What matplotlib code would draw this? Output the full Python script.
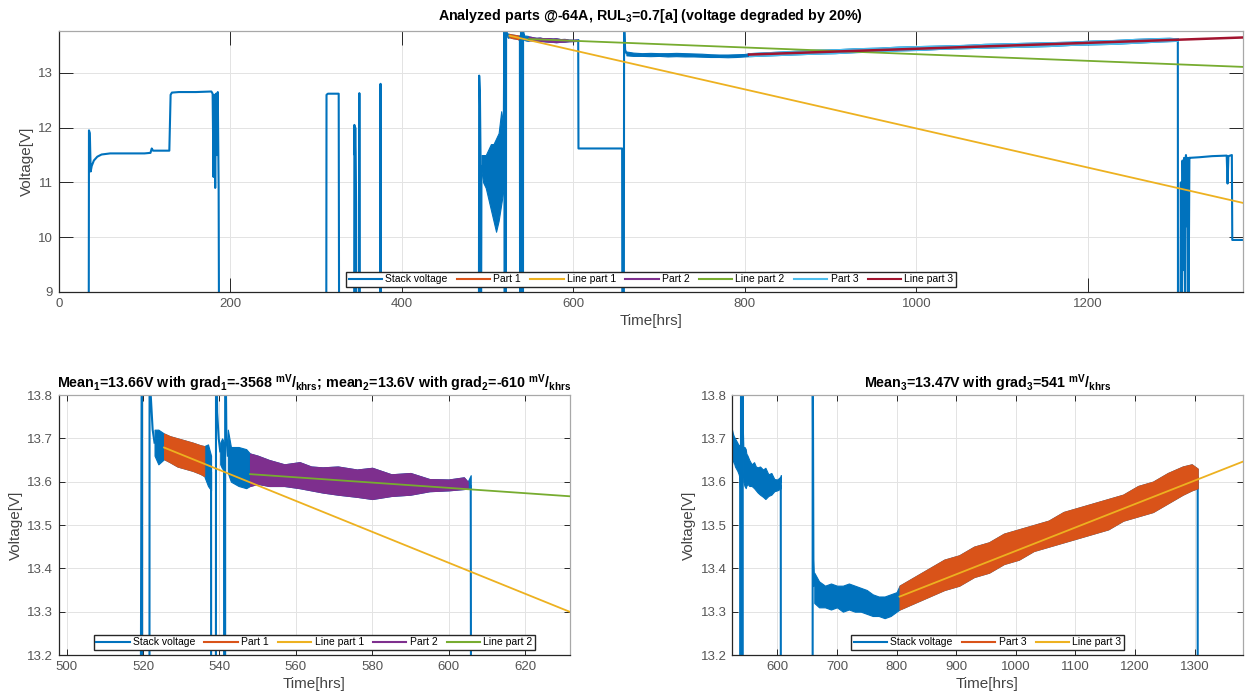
import numpy as np
import matplotlib.pyplot as plt
from matplotlib.lines import Line2D

plt.rcParams['font.family'] = ['Liberation Sans', 'DejaVu Sans']
plt.rcParams['mathtext.fontset'] = 'custom'
plt.rcParams['mathtext.rm'] = 'Liberation Sans:bold'
plt.rcParams['mathtext.default'] = 'rm'

BLUE, ORANGE, YELLOW, PURPLE = '#0072BD', '#D95319', '#EDB120', '#7E2F8E'
GREEN, CYAN, RED = '#77AC30', '#4DBEEE', '#A2142F'

# stack voltage: switching steps and spikes (8 = below scale, 14 = above scale)
step_t = [35.0, 35.3, 36.3, 37.3, 38.5, 41, 45, 50, 60, 80, 100, 107, 108.5, 110, 112, 129,
          130.5, 132, 140, 160, 178, 179.5, 180.5, 181.5, 182.5, 183.5, 184.5, 185.5, 186.5, 187,
          np.nan,
          312.0, 312.3, 314, 326.5, 327,
          np.nan,
          344.5, 344.8, 345.3, 345.8, 346.3, 346.8, 347.1, np.nan, 350.3, 350.6, 351.0,
          np.nan,
          375.0, 375.3, 375.6,
          np.nan,
          490.0, 490.3, 491.2, 492.0, 492.5, 493.0,
          np.nan,
          519.0, 519.7, 519.9, 521.5, 521.7, 522.0, 522.5, 523.0,
          np.nan,
          537.8, 538.0, 538.9, 539.1, 539.4, 539.8, 540.2,
          np.nan,
          541.2, 541.4, 541.5, 541.8, 542.2,
          np.nan,
          605.8, 606.1, 657.0, 657.3, 659.0, 659.3, 660.5, 662.0,
          np.nan,
          1305.0, 1305.2, 1308, 1308.5, 1309.5, 1310.5, 1311.5, 1312.5, 1313.5, 1314.5, 1315.5,
          1316.5, 1317.5, 1318.5, 1320, 1330, 1345, 1362, 1363, 1364, 1368, 1368.5, 1381]
step_v = [8.0, 11.95, 11.9, 11.2, 11.3, 11.4, 11.47, 11.51, 11.53, 11.53, 11.53, 11.54, 11.62, 11.58,
          11.58, 11.58, 12.6, 12.64, 12.65, 12.65, 12.66, 12.62, 11.1, 12.6, 10.9, 12.62, 11.5, 12.65,
          10.9, 8.0,
          np.nan,
          8.0, 12.6, 12.62, 12.62, 8.0,
          np.nan,
          8.0, 12.05, 11.5, 12.0, 11.55, 10.6, 8.0, np.nan, 8.0, 12.63, 8.0,
          np.nan,
          8.0, 12.8, 8.0,
          np.nan,
          8.0, 12.95, 12.6, 11.3, 8.0, 11.3,
          np.nan,
          11.9, 14.0, 8.0, 8.0, 14.0, 13.8, 13.72, 13.69,
          np.nan,
          13.62, 8.0, 8.0, 14.0, 13.76, 13.7, 13.67,
          np.nan,
          13.65, 8.0, 14.0, 13.72, 13.66,
          np.nan,
          13.59, 11.62, 11.62, 8.0, 8.0, 14.0, 13.42, 13.36,
          np.nan,
          13.61, 8.0, 8.0, 11.0, 8.0, 11.4, 9.4, 11.45, 8.0, 11.5, 10.2,
          11.45, 8.6, 11.45, 11.45, 11.46, 11.48, 11.49, 10.98, 11.48, 11.5, 9.95, 9.95]

# stack voltage: noisy stretches as lower / upper envelope
osc_t = [493, 495, 498, 501, 504, 507, 510, 513, 516, 519]
osc_lo = [11.2, 11.0, 10.9, 10.7, 10.5, 10.3, 10.1, 10.3, 10.6, 10.9]
osc_hi = [11.5, 11.5, 11.5, 11.6, 11.7, 11.7, 11.8, 11.9, 12.3, 12.0]

run1_t = [523, 524, 525.5, 527, 529, 531, 533, 535, 536, 537, 537.8]
run1_lo = [13.66, 13.64, 13.652, 13.645, 13.635, 13.63, 13.625, 13.618, 13.613, 13.59, 13.58]
run1_hi = [13.72, 13.72, 13.711, 13.705, 13.70, 13.695, 13.69, 13.684, 13.682, 13.686, 13.66]

run2_t = [540.2, 540.7, 541.2]
run2_lo = [13.64, 13.63, 13.63]
run2_hi = [13.69, 13.70, 13.69]

run3_t = [542.2, 543, 545, 547, 548, 550, 553, 557, 561, 564, 567, 571, 576, 580, 585, 590,
          595, 600, 604, 605, 605.8]
run3_lo = [13.62, 13.60, 13.59, 13.585, 13.59, 13.595, 13.59, 13.59, 13.585, 13.58, 13.575,
           13.57, 13.565, 13.56, 13.567, 13.57, 13.578, 13.58, 13.583, 13.584, 13.585]
run3_hi = [13.72, 13.68, 13.68, 13.675, 13.665, 13.66, 13.65, 13.64, 13.645, 13.635, 13.633,
           13.635, 13.628, 13.632, 13.617, 13.62, 13.606, 13.605, 13.61, 13.6, 13.615]

run4_t = [662, 670, 680, 690, 700, 710, 720, 730, 740, 750, 760, 770, 780, 790, 800, 805, 830,
          855, 880, 905, 930, 955, 980, 1005, 1030, 1055, 1080, 1105, 1130, 1155, 1180, 1205,
          1230, 1255, 1280, 1295, 1305]
run4_lo = [13.32, 13.31, 13.31, 13.305, 13.31, 13.30, 13.305, 13.30, 13.30, 13.295, 13.29,
           13.29, 13.285, 13.29, 13.30, 13.305, 13.32, 13.335, 13.35, 13.36, 13.38, 13.39, 13.41,
           13.42, 13.44, 13.45, 13.46, 13.47, 13.48, 13.49, 13.51, 13.52, 13.53, 13.55, 13.57,
           13.58, 13.585]
run4_hi = [13.39, 13.37, 13.36, 13.365, 13.36, 13.36, 13.365, 13.36, 13.355, 13.35, 13.34,
           13.335, 13.335, 13.34, 13.345, 13.36, 13.38, 13.40, 13.42, 13.43, 13.45, 13.46, 13.48,
           13.49, 13.50, 13.51, 13.53, 13.54, 13.55, 13.56, 13.57, 13.59, 13.60, 13.62, 13.635,
           13.64, 13.63]

runs = [(osc_t, osc_lo, osc_hi), (run1_t, run1_lo, run1_hi), (run2_t, run2_lo, run2_hi),
        (run3_t, run3_lo, run3_hi), (run4_t, run4_lo, run4_hi)]

# analysed parts: time window, mean voltage [V], gradient [mV/khrs]
part_start = [525.5, 548, 805]
part_end = [536, 605, 1305]
part_mean = [13.66, 13.6, 13.47]
part_grad = [-3568, -610, 541]
t_last = 1381


def draw_stack(ax):
    ax.plot(step_t, step_v, color=BLUE, lw=1.5, zorder=2)
    for t, lo, hi in runs:
        ax.fill_between(t, lo, hi, color=BLUE, lw=0.8, zorder=2)


def draw_part(ax, k, color):
    for t, lo, hi in runs:
        t = np.asarray(t)
        m = (t >= part_start[k]) & (t <= part_end[k])
        if m.any():
            ax.fill_between(t[m], np.asarray(lo)[m], np.asarray(hi)[m],
                            color=color, lw=0.8, zorder=3)


def draw_fit(ax, k, color, lw=1.3):
    mid = 0.5 * (part_start[k] + part_end[k])
    tt = np.array([part_start[k], t_last])
    vv = part_mean[k] + part_grad[k] / 1e6 * (tt - mid)
    ax.plot(tt, vv, color=color, lw=lw, zorder=4)


def style(ax, xlim, ylim, xticks, yticks, ticklen):
    ax.set_xlim(xlim)
    ax.set_ylim(ylim)
    ax.set_xticks(xticks)
    ax.set_yticks(yticks)
    ax.grid(True, color='#e3e3e3', lw=0.7)
    ax.set_axisbelow(True)
    ax.tick_params(direction='in', length=ticklen, width=0.7, top=True, right=True,
                   labelsize=9.5, labelcolor='#555555', color='#262626', pad=4)
    for s in ['left', 'bottom']:
        ax.spines[s].set_color('#262626')
        ax.spines[s].set_linewidth(0.9)
    for s in ['top', 'right']:
        ax.spines[s].set_color('#a8a8a8')
        ax.spines[s].set_linewidth(0.9)
    ax.set_xlabel('Time[hrs]', fontsize=11, color='#444444', labelpad=3)
    ax.set_ylabel('Voltage[V]', fontsize=11, color='#444444', labelpad=3)


def legend(ax, items):
    handles = [Line2D([], [], color=c, lw=1.5) for _, c in items]
    ax.legend(handles, [n for n, _ in items], loc='lower center', ncol=len(items),
              fontsize=7.5, frameon=True, fancybox=False, edgecolor='#262626',
              framealpha=1, borderpad=0.25, handlelength=3.2, handletextpad=0.3,
              columnspacing=0.9, borderaxespad=0.5)


fig = plt.figure(figsize=(12.45, 6.99), dpi=100)
W, H = 1245, 699
ax_top = fig.add_axes([58.7 / W, 1 - 292 / H, (1243 - 58.7) / W, (292 - 30.7) / H])
ax_l = fig.add_axes([58.7 / W, 1 - 655 / H, (570 - 58.7) / W, (655 - 395) / H])
ax_r = fig.add_axes([732 / W, 1 - 655 / H, (1243 - 732) / W, (655 - 395) / H])

# whole record
draw_stack(ax_top)
draw_part(ax_top, 0, ORANGE)
draw_fit(ax_top, 0, YELLOW)
draw_part(ax_top, 1, PURPLE)
draw_fit(ax_top, 1, GREEN)
draw_part(ax_top, 2, CYAN)
draw_fit(ax_top, 2, RED, lw=1.8)
style(ax_top, (0, t_last), (9, 13.77), range(0, 1201, 200), range(9, 14), 10)
ax_top.set_title('Analyzed parts @-64A, RUL$_3$=0.7[a] (voltage degraded by 20%)',
                 fontsize=10.3, fontweight='bold', pad=8)
legend(ax_top, [('Stack voltage', BLUE), ('Part 1', ORANGE), ('Line part 1', YELLOW),
                ('Part 2', PURPLE), ('Line part 2', GREEN), ('Part 3', CYAN),
                ('Line part 3', RED)])

# parts 1 and 2
draw_stack(ax_l)
draw_part(ax_l, 0, ORANGE)
draw_fit(ax_l, 0, YELLOW)
draw_part(ax_l, 1, PURPLE)
draw_fit(ax_l, 1, GREEN)
style(ax_l, (497.9, 631.8), (13.2, 13.8), range(500, 621, 20),
      np.round(np.arange(13.2, 13.81, 0.1), 1), 4)
ax_l.set_title('Mean$_1$=13.66V with grad$_1$=-3568 ${}^{mV}/{}_{khrs}$; '
               'mean$_2$=13.6V with grad$_2$=-610 ${}^{mV}/{}_{khrs}$',
               fontsize=10.3, fontweight='bold', pad=5)
legend(ax_l, [('Stack voltage', BLUE), ('Part 1', ORANGE), ('Line part 1', YELLOW),
              ('Part 2', PURPLE), ('Line part 2', GREEN)])

# part 3
draw_stack(ax_r)
draw_part(ax_r, 2, ORANGE)
draw_fit(ax_r, 2, YELLOW)
style(ax_r, (524, t_last), (13.2, 13.8), range(600, 1301, 100),
      np.round(np.arange(13.2, 13.81, 0.1), 1), 4)
ax_r.set_title('Mean$_3$=13.47V with grad$_3$=541 ${}^{mV}/{}_{khrs}$',
               fontsize=10.3, fontweight='bold', pad=5)
legend(ax_r, [('Stack voltage', BLUE), ('Part 3', ORANGE), ('Line part 3', YELLOW)])

fig.savefig('out.png', dpi=100)
